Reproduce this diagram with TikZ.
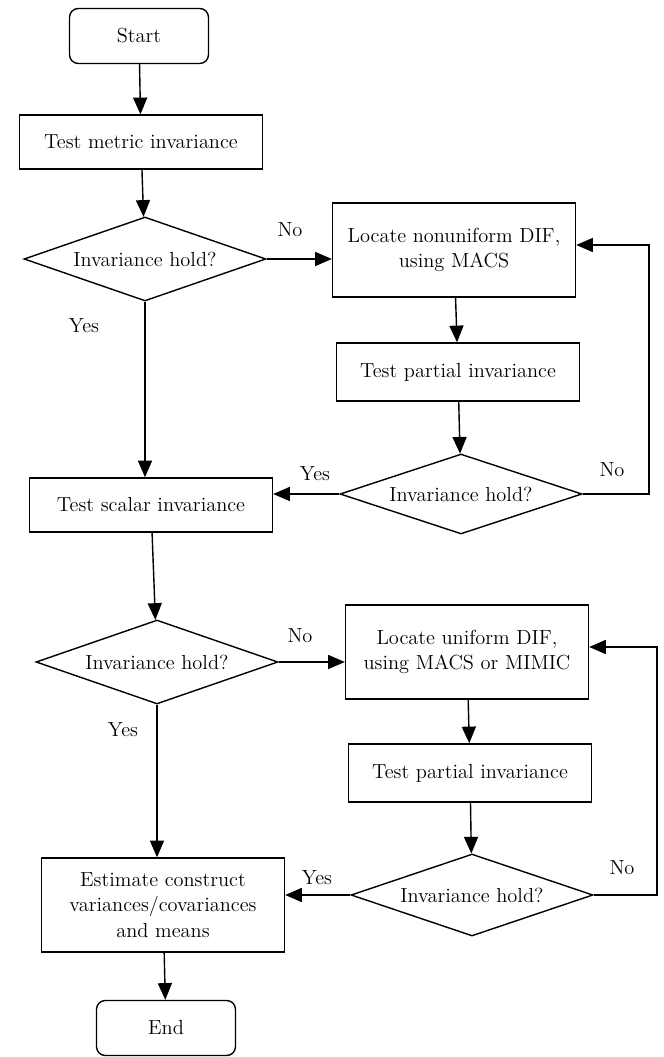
\documentclass[tikz,border=0pt]{standalone}
\usetikzlibrary{shapes.geometric,arrows.meta}

\begin{document}
\begin{tikzpicture}[x=0.02cm, y=-0.02cm, line width=0.8pt, >={Triangle[width=8pt,length=9.5pt]}]
	\tikzstyle{every node}=[inner sep=2pt, align=center, font=\fontsize{11.6}{14.5}\selectfont]
	\tikzstyle{term}=[draw, rectangle, rounded corners=5pt, minimum width=2.78cm, minimum height=1.1cm]
	\tikzstyle{proc}=[draw, rectangle, minimum width=4.86cm, minimum height=1.08cm]
	\tikzstyle{decide}=[draw, diamond, inner sep=0pt, shape aspect=2.8, minimum width=4.84cm, minimum height=1.68cm]
	\useasboundingbox (0,0) rectangle (663,1057);
	% left column
	\node[term] (start) at (139, 36) {Start};
	\node[proc] (metric) at (141, 142) {Test metric invariance};
	\node[decide] (hold1) at (145, 259) {Invariance hold?};
	\node[proc] (scalar) at (151, 505) {Test scalar invariance};
	\node[decide] (hold3) at (157, 662) {Invariance hold?};
	\node[proc, minimum height=1.88cm] (estimate) at (163, 905) {Estimate construct\\variances/covariances\\and means};
	\node[term] (end) at (166, 1028) {End};
	% right column
	\node[proc, minimum height=1.88cm] (nonunif) at (454, 250) {Locate nonuniform DIF,\\using MACS};
	\node[proc, minimum height=1.16cm] (partial1) at (458, 372) {Test partial invariance};
	\node[decide, minimum height=1.6cm] (hold2) at (461, 494) {Invariance hold?};
	\node[proc, minimum height=1.88cm] (unif) at (467, 652) {Locate uniform DIF,\\using MACS or MIMIC};
	\node[proc, minimum height=1.16cm] (partial2) at (470, 773) {Test partial invariance};
	\node[decide, minimum height=1.64cm] (hold4) at (472, 895) {Invariance hold?};
	% labels
	\node (no1) at (290, 230) {No};
	\node (yes1) at (84, 326) {Yes};
	\node (no2) at (612, 470) {No};
	\node (yes2) at (315, 474) {Yes};
	\node (no3) at (300, 636) {No};
	\node (yes3) at (123, 730) {Yes};
	\node (no4) at (622, 868) {No};
	\node (yes4) at (317, 878) {Yes};
	% loop corners
	\coordinate (loop1) at (649, 245);
	\coordinate (loop2) at (657, 647);
	\draw [->] (start) -- (metric);
	\draw [->] (metric) -- (hold1);
	\draw [->] (hold1.east) -- (hold1.east -| nonunif.west);
	\draw [->] (hold1.south) -- (hold1.south |- scalar.north);
	\draw [->] (nonunif) -- (partial1);
	\draw [->] (partial1) -- (hold2);
	\draw [->] (hold2.east) -| (loop1) -- (loop1 -| nonunif.east);
	\draw [->] (hold2.west) -- (hold2.west -| scalar.east);
	\draw [->] (scalar) -- (hold3);
	\draw [->] (hold3.east) -- (hold3.east -| unif.west);
	\draw [->] (hold3.south) -- (hold3.south |- estimate.north);
	\draw [->] (unif) -- (partial2);
	\draw [->] (partial2) -- (hold4);
	\draw [->] (hold4.east) -| (loop2) -- (loop2 -| unif.east);
	\draw [->] (hold4.west) -- (hold4.west -| estimate.east);
	\draw [->] (estimate) -- (end);
\end{tikzpicture}
\end{document}
